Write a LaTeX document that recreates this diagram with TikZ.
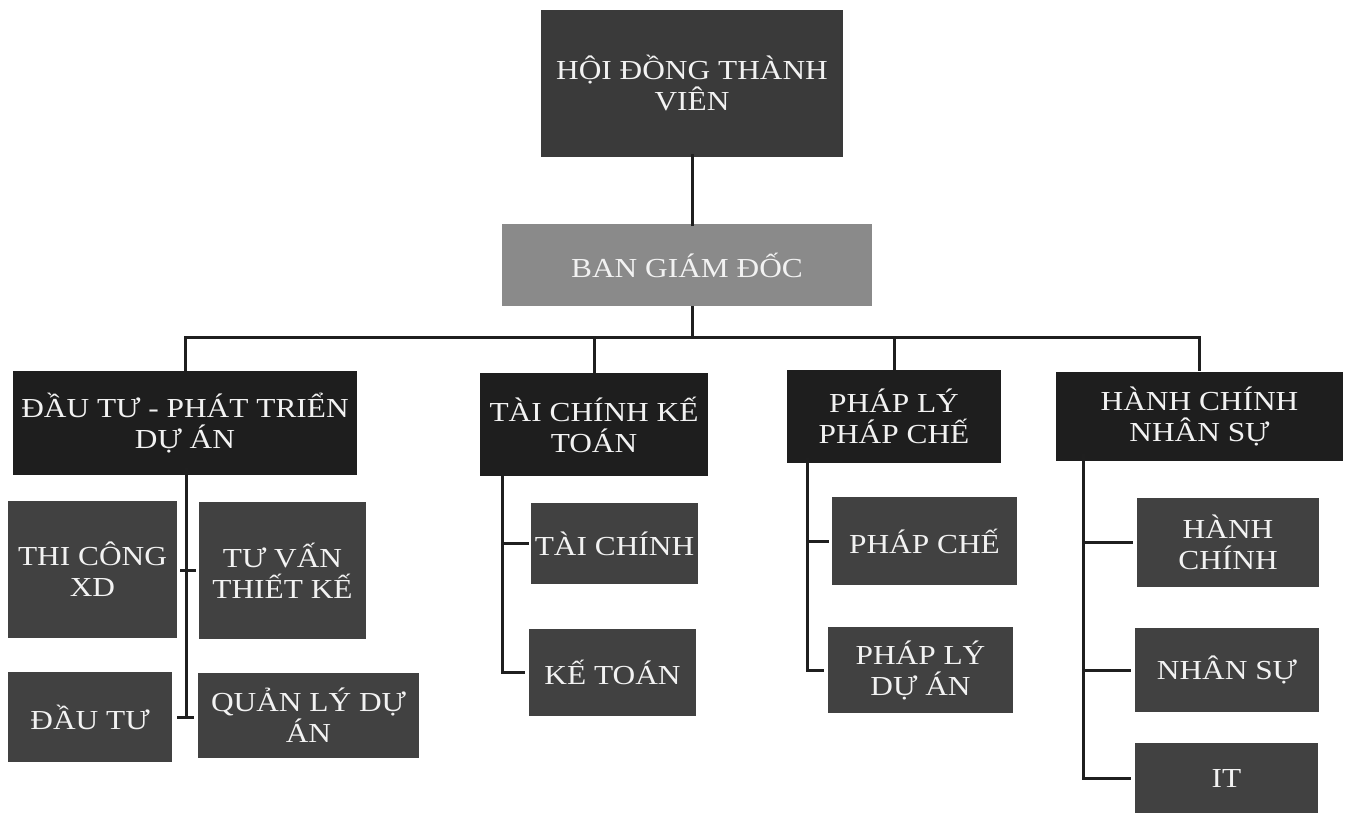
\documentclass[tikz,border=0pt]{standalone}
\usepackage{fontspec}
\setmainfont{Liberation Serif}[FakeStretch=1.14]
\definecolor{topc}{HTML}{3A3A3A}
\definecolor{midc}{HTML}{8A8A8A}
\definecolor{lvtwo}{HTML}{1E1E1E}
\definecolor{lvthree}{HTML}{414141}
\definecolor{txtc}{HTML}{F2F2F2}
\tikzset{
  basebox/.style={rectangle, inner sep=0pt, align=center, text=txtc,
    font=\fontsize{27.5}{31}\selectfont},
  topbox/.style={basebox, fill=topc},
  midbox/.style={basebox, fill=midc},
  deptbox/.style={basebox, fill=lvtwo},
  unitbox/.style={basebox, fill=lvthree},
  link/.style={line width=3pt, draw=black!88},
}
\begin{document}
\begin{tikzpicture}[x=1pt,y=-1pt]
\useasboundingbox (0,0) rectangle (1348,817);
% top levels
\node[topbox, minimum width=302, minimum height=147] (hdtv) at (692,83.5) {HỘI ĐỒNG THÀNH\\VIÊN};
\node[midbox, minimum width=370, minimum height=82] (bgd) at (687,265) {BAN GIÁM ĐỐC};
% departments
\node[deptbox, minimum width=344, minimum height=104] (dtpt) at (185,423) {ĐẦU TƯ - PHÁT TRIỂN\\DỰ ÁN};
\node[deptbox, minimum width=228, minimum height=103] (tckt) at (594,424.5) {TÀI CHÍNH KẾ\\TOÁN};
\node[deptbox, minimum width=214, minimum height=93] (plpc) at (894,416.5) {PHÁP LÝ\\PHÁP CHẾ};
\node[deptbox, minimum width=287, minimum height=89] (hcns) at (1199.5,416) {HÀNH CHÍNH\\NHÂN SỰ};
% units
\node[unitbox, minimum width=169, minimum height=137] (tcxd) at (92.5,569.5) {THI CÔNG\\XD};
\node[unitbox, minimum width=167, minimum height=137] (tvtk) at (282.5,570.5) {TƯ VẤN\\THIẾT KẾ};
\node[unitbox, minimum width=164, minimum height=90] (dautu) at (90,717) {ĐẦU TƯ};
\node[unitbox, minimum width=221, minimum height=85] (qlda) at (308.5,715.5) {QUẢN LÝ DỰ\\ÁN};
\node[unitbox, minimum width=167, minimum height=81] (taichinh) at (614.5,543.5) {TÀI CHÍNH};
\node[unitbox, minimum width=167, minimum height=87] (ketoan) at (612.5,672.5) {KẾ TOÁN};
\node[unitbox, minimum width=185, minimum height=88] (phapche) at (924.5,541) {PHÁP CHẾ};
\node[unitbox, minimum width=185, minimum height=86] (phaplyda) at (920.5,670) {PHÁP LÝ\\DỰ ÁN};
\node[unitbox, minimum width=182, minimum height=89] (hanhchinh) at (1228,542.5) {HÀNH\\CHÍNH};
\node[unitbox, minimum width=184, minimum height=84] (nhansu) at (1227,670) {NHÂN SỰ};
\node[unitbox, minimum width=183, minimum height=70] (it) at (1226.5,778) {IT};
% spine coordinates
\coordinate (busy) at (0,337);
\coordinate (dtspine) at (186,0);
\coordinate (tcspine) at (502,0);
\coordinate (plspine) at (807,0);
\coordinate (hcspine) at (1083,0);
% top connectors
\draw[link] ([yshift=3]hdtv.south) -- ([yshift=-2]bgd.north -| hdtv.south);
\draw[link] (bgd.south -| hdtv.south) -- (hdtv.south |- busy);
\draw[link] (dtpt.north) -- (dtpt.north |- busy) -- (hcns.north |- busy) -- (hcns.north);
\draw[link] (tckt.north |- busy) -- (tckt.north);
\draw[link] (plpc.north |- busy) -- (plpc.north);
% DTPT group
\draw[link] ([yshift=7]dtpt.south -| dtspine) -- (dtspine |- dautu.east);
\draw[link] ([xshift=3]tcxd.east |- 0,570) -- ([xshift=-3]tvtk.west |- 0,570);
\draw[link] ([xshift=5]dautu.east) -- ([xshift=-4]qlda.west |- dautu.east);
% TCKT group
\draw[link] ([yshift=4]tckt.south -| tcspine) |- ([xshift=-4]ketoan.west);
\draw[link] (tcspine |- taichinh.west) -- ([xshift=-2]taichinh.west);
% PLPC group
\draw[link] ([yshift=5]plpc.south -| plspine) |- ([xshift=-4]phaplyda.west);
\draw[link] (plspine |- phapche.west) -- ([xshift=-3]phapche.west);
% HCNS group
\draw[link] ([yshift=7]hcns.south -| hcspine) |- ([xshift=-4]it.west);
\draw[link] (hcspine |- hanhchinh.west) -- ([xshift=-4]hanhchinh.west);
\draw[link] (hcspine |- nhansu.west) -- ([xshift=-4]nhansu.west);
\end{tikzpicture}
\end{document}
